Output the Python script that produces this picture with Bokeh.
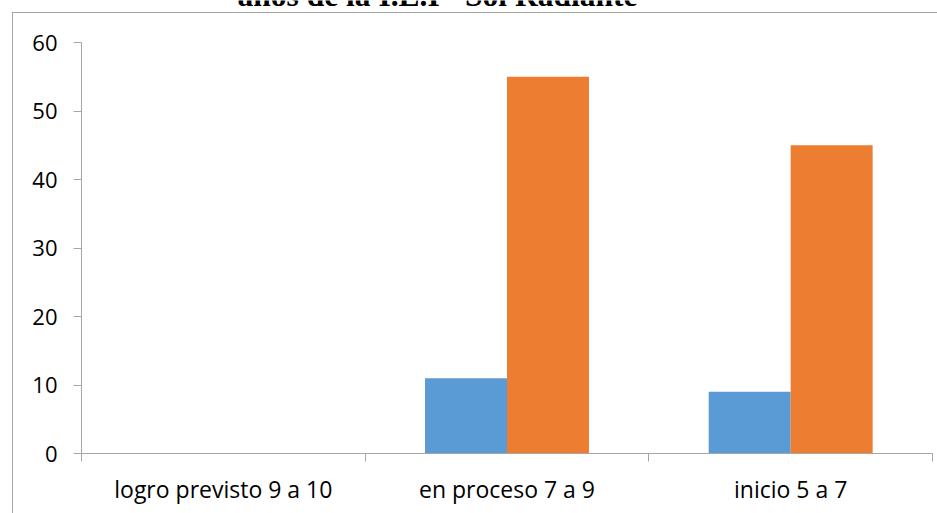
from bokeh.plotting import figure
from bokeh.models import (Range1d, FixedTicker, ColumnDataSource, Label, LinearAxis)
from bokeh.transform import dodge
from bokeh.embed import file_html
from bokeh.resources import INLINE

title_text = 'años de la I.E.I "Sol Radiante"'
categories = ["logro previsto 9 a 10", "en proceso 7 a 9", "inicio 5 a 7"]
serie_azul = [0, 11, 9]
serie_naranja = [0, 55, 45]
y_ticks = [0, 10, 20, 30, 40, 50, 60]

GRID = "#a6a6a6"
FONT = "Open Sans"

# layout constants (pixels)
W, H = 937, 513
BOTTOM = 60          # space below the plot area
TOP_GAP = 42         # distance from canvas top to the 60 gridline
plot_h = H - BOTTOM
y_max = max(y_ticks)
y_end = y_max * plot_h / (plot_h - TOP_GAP)

xpos = [i + 0.5 for i in range(len(categories))]
src = ColumnDataSource(dict(x=xpos, azul=serie_azul, naranja=serie_naranja))

p = figure(width=W, height=H, output_backend="svg", toolbar_location=None,
           x_range=Range1d(0, len(categories)), y_range=Range1d(0, y_end),
           min_border_left=81, min_border_right=5, min_border_top=0, min_border_bottom=BOTTOM,
           x_axis_type=None, y_axis_type=None)
p.outline_line_color = None
p.background_fill_alpha = 0
p.border_fill_alpha = 0
p.styles = {
    "background": ("linear-gradient(#a6a6a6, #a6a6a6) 12px 12px / 1px 100% no-repeat, "
                   "linear-gradient(#a6a6a6, #a6a6a6) 12px 12px / 100% 1px no-repeat, white"),
}

bw = 0.289
p.vbar(x=dodge("x", -bw / 2, range=p.x_range), top="azul", width=bw, source=src,
       fill_color="#5B9BD5", line_color=None)
p.vbar(x=dodge("x", bw / 2, range=p.x_range), top="naranja", width=bw, source=src,
       fill_color="#ED7D31", line_color=None)

# y axis
yax = LinearAxis(ticker=FixedTicker(ticks=y_ticks, minor_ticks=[]), bounds=(0, y_max))
yax.axis_line_color = GRID
yax.major_tick_line_color = GRID
yax.major_tick_out = 8
yax.major_tick_in = 0
yax.major_label_standoff = 16
yax.major_label_text_font = FONT
yax.major_label_text_font_size = "22px"
yax.major_label_text_color = "#000000"
p.add_layout(yax, "left")

# x axis: labels centred, ticks at category borders
xax = LinearAxis(ticker=FixedTicker(ticks=xpos, minor_ticks=list(range(len(categories) + 1))))
xax.major_label_overrides = {x: c for x, c in zip(xpos, categories)}
xax.axis_line_color = GRID
xax.major_tick_line_color = None
xax.major_tick_out = 0
xax.major_tick_in = 0
xax.minor_tick_line_color = GRID
xax.minor_tick_out = 8
xax.minor_tick_in = 0
xax.major_label_standoff = 11
xax.major_label_text_font = FONT
xax.major_label_text_font_size = "23px"
xax.major_label_text_color = "#000000"
p.add_layout(xax, "below")

p.ygrid.grid_line_color = GRID
p.ygrid.ticker = FixedTicker(ticks=y_ticks)
p.xgrid.grid_line_color = None
p.ygrid.grid_line_width = 1
p.grid.level = "underlay"

# title, partly above the top edge as in the reference crop
p.add_layout(Label(x=237, y=-5, x_units="canvas", y_units="canvas", text=title_text,
                   text_font="Liberation Serif", text_font_style="bold",
                   text_font_size="31.5px", text_baseline="alphabetic", text_align="left",
                   text_color="#000000"))

open("out.html", "w").write(file_html(p, INLINE))
